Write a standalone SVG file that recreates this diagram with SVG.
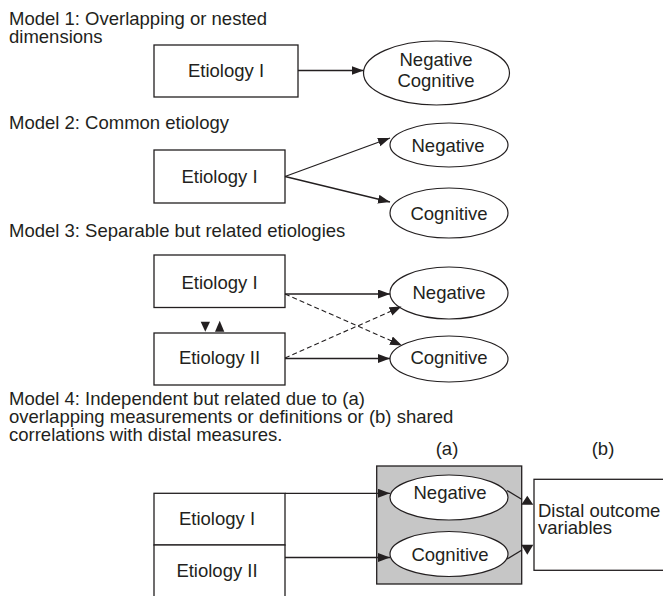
<svg xmlns="http://www.w3.org/2000/svg" width="663" height="596" viewBox="0 0 663 596">
<defs>
<style>
text{font-family:"Liberation Sans",Arial,Helvetica,sans-serif;font-size:18.5px;fill:#231f20}
.c{text-anchor:middle}
.box{fill:#fff;stroke:#231f20;stroke-width:1.3}
.ell{fill:#fff;stroke:#231f20;stroke-width:1.2}
.ln{fill:none;stroke:#231f20;stroke-width:1.3}
.dash{fill:none;stroke:#231f20;stroke-width:1.1;stroke-dasharray:5,3}
.head{fill:#231f20}
</style>
<marker id="arr" markerUnits="userSpaceOnUse" markerWidth="13" markerHeight="10" refX="12" refY="4.5" orient="auto">
<path d="M0,0 L12,4.5 L0,9 z" fill="#231f20"/>
</marker>
</defs>
<rect width="663" height="596" fill="#fff"/>

<g id="titles">
<text x="9" y="24.5">Model 1: Overlapping or nested</text>
<text x="9" y="42.5">dimensions</text>
<text x="9" y="129">Model 2: Common etiology</text>
<text x="9" y="237">Model 3: Separable but related etiologies</text>
<text x="9" y="404.5">Model 4: Independent but related due to (a)</text>
<text x="9" y="422.5">overlapping measurements or definitions or (b) shared</text>
<text x="9" y="440.5">correlations with distal measures.</text>
<text class="c" x="447" y="455">(a)</text>
<text class="c" x="603" y="455">(b)</text>
</g>

<g id="m1-etiology1">
<rect class="box" x="154" y="45" width="144" height="52"/>
<text class="c" x="226" y="77">Etiology I</text>
</g>
<g id="m1-negcog">
<ellipse class="ell" cx="436.5" cy="73" rx="73" ry="32"/>
<text class="c" x="436" y="65.5">Negative</text>
<text class="c" x="436" y="86.5">Cognitive</text>
</g>

<g id="m2-etiology1">
<rect class="box" x="154" y="150" width="131" height="53"/>
<text class="c" x="219.5" y="183">Etiology I</text>
</g>
<g id="m2-negative">
<ellipse class="ell" cx="449" cy="145" rx="59" ry="22"/>
<text class="c" x="448" y="151.5">Negative</text>
</g>
<g id="m2-cognitive">
<ellipse class="ell" cx="449" cy="213" rx="59" ry="25"/>
<text class="c" x="449" y="219.5">Cognitive</text>
</g>

<g id="m3-etiology1">
<rect class="box" x="154" y="255" width="131" height="52.5"/>
<text class="c" x="219.5" y="288.5">Etiology I</text>
</g>
<g id="m3-etiology2">
<rect class="box" x="154" y="333" width="131" height="52"/>
<text class="c" x="219.5" y="363.5">Etiology II</text>
</g>
<g id="m3-negative">
<ellipse class="ell" cx="449" cy="293" rx="59" ry="26"/>
<text class="c" x="449" y="299">Negative</text>
</g>
<g id="m3-cognitive">
<ellipse class="ell" cx="449" cy="359" rx="59" ry="23"/>
<text class="c" x="449" y="364">Cognitive</text>
</g>

<g id="m4-etiology1">
<rect class="box" x="154" y="493.3" width="131" height="51.7"/>
<text class="c" x="217" y="525">Etiology I</text>
</g>
<g id="m4-etiology2">
<rect class="box" x="154" y="545" width="131" height="60"/>
<text class="c" x="217" y="577">Etiology II</text>
</g>
<g id="m4-shared">
<rect x="376.7" y="466" width="145" height="118" fill="#c6c6c6" stroke="#231f20" stroke-width="1.3"/>
</g>
<g id="m4-negative">
<ellipse class="ell" cx="449" cy="497.5" rx="59" ry="22.5"/>
<text class="c" x="450" y="499">Negative</text>
</g>
<g id="m4-cognitive">
<ellipse class="ell" cx="449" cy="554" rx="59" ry="22.5"/>
<text class="c" x="450" y="561">Cognitive</text>
</g>
<g id="m4-distal">
<rect class="box" x="534" y="479.3" width="140" height="91"/>
<text x="538" y="517">Distal outcome</text>
<text x="538" y="534">variables</text>
</g>

<g id="connectors">
<line class="ln" x1="298" y1="70.5" x2="363.5" y2="70.5" marker-end="url(#arr)"/>
<line class="ln" x1="285" y1="176.5" x2="390" y2="138" marker-end="url(#arr)"/>
<line class="ln" x1="285" y1="176.5" x2="390" y2="202" marker-end="url(#arr)"/>
<line class="ln" x1="285" y1="294" x2="390" y2="294" marker-end="url(#arr)"/>
<line class="ln" x1="285" y1="358.5" x2="390" y2="358.5" marker-end="url(#arr)"/>
<line class="dash" x1="285" y1="294" x2="402" y2="345.5" marker-end="url(#arr)"/>
<line class="dash" x1="285" y1="358" x2="401.5" y2="306.5" marker-end="url(#arr)"/>
<polygon class="head" points="200.7,321.7 210,321.7 205.3,331.7"/>
<polygon class="head" points="215,331.7 224.3,331.7 219.7,320.7"/>
<line class="ln" x1="285" y1="493.3" x2="390" y2="493.3" marker-end="url(#arr)"/>
<line class="ln" x1="285" y1="557.5" x2="390" y2="557.5" marker-end="url(#arr)"/>
<path class="ln" d="M507,490.5 L522,499.5"/>
<polygon class="head" points="521.3,504.7 533.3,504.7 527.3,495.7"/>
<path class="ln" d="M507,559 L522,550"/>
<polygon class="head" points="521.3,544.7 533.3,544.7 527.3,554.7"/>
</g>
</svg>
